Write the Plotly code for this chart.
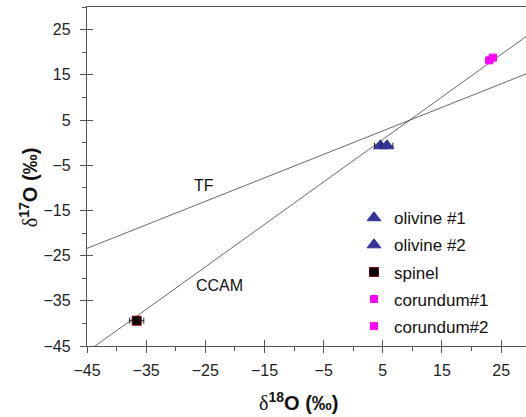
import plotly.graph_objects as go

# ---- data ----
olivine1_x = [4.6]
olivine1_y = [-0.7]
olivine1_err = [1.0]
olivine2_x = [5.7]
olivine2_y = [-0.7]
olivine2_err = [1.0]
spinel_x = [-36.6]
spinel_y = [-39.4]
spinel_err = [1.2]
corundum1_x = [23.0]
corundum1_y = [18.2]
corundum1_err = [0.6]
corundum2_x = [23.6]
corundum2_y = [18.8]
corundum2_err = [0.6]

line_x = [-45, 30]
tf_slope, tf_intercept = 0.52, 0.0
ccam_slope, ccam_intercept = 0.94, -4.0

x_range = [-45, 29.2]
y_range = [-45, 30]
tick_vals = [-45, -35, -25, -15, -5, 5, 15, 25]

FONT = "Liberation Sans, Arial, sans-serif"
AX = "#555555"

# plot-area geometry in pixels (used only to place paper-referenced items)
L, R, T, B = 87, 526, 7, 345.7
def px_x(p):
    return (p - L) / (R - L)
def px_y(p):
    return (B - p) / (B - T)

fig = go.Figure()

fig.add_trace(go.Scatter(x=line_x, y=[tf_slope * v + tf_intercept for v in line_x],
                         mode="lines", line=dict(color="#404040", width=0.8),
                         showlegend=False, hoverinfo="skip"))
fig.add_trace(go.Scatter(x=line_x, y=[ccam_slope * v + ccam_intercept for v in line_x],
                         mode="lines", line=dict(color="#404040", width=0.8),
                         showlegend=False, hoverinfo="skip"))

def pts(name, x, y, err, symbol, color, size, lcolor, group):
    return go.Scatter(
        x=x, y=y, name=name, mode="markers", legendgroup=group,
        marker=dict(symbol=symbol, color=color, size=size,
                    line=dict(color=lcolor, width=1)),
        error_x=dict(type="data", array=err, color="#222222", thickness=1, width=3),
    )

fig.add_trace(pts("olivine #1", olivine1_x, olivine1_y, olivine1_err,
                  "triangle-up", "#333399", 12, "#333399", "g1"))
fig.add_trace(pts("olivine #2", olivine2_x, olivine2_y, olivine2_err,
                  "triangle-up", "#333399", 12, "#333399", "g2"))
fig.add_trace(pts("spinel", spinel_x, spinel_y, spinel_err,
                  "square", "#000000", 9, "#800000", "g3"))
fig.add_trace(pts("corundum#1", corundum1_x, corundum1_y, corundum1_err,
                  "square", "#FF00FF", 7, "#FF00FF", "g4"))
fig.add_trace(pts("corundum#2", corundum2_x, corundum2_y, corundum2_err,
                  "square", "#FF00FF", 7, "#FF00FF", "g5"))

# invisible trace on the overlay axes so the inner tick halves are drawn
fig.add_trace(go.Scatter(x=[0], y=[0], xaxis="x2", yaxis="y2", mode="markers",
                         marker=dict(opacity=0), showlegend=False, hoverinfo="skip"))

fig.add_annotation(x=-25.2, y=-9.4, text="TF", showarrow=False,
                   font=dict(family=FONT, size=16, color="#111111"))
fig.add_annotation(x=-22.6, y=-31.7, text="CCAM", showarrow=False,
                   font=dict(family=FONT, size=16, color="#111111"))

delta = "<span style='font-family:Liberation Serif,Times New Roman,serif;font-weight:normal'>δ</span>"
fig.add_annotation(xref="paper", yref="paper", x=px_x(298), y=px_y(401),
                   xanchor="center", yanchor="middle", showarrow=False,
                   text=delta + "<b><sup>18</sup>O (‰)</b>",
                   font=dict(family=FONT, size=20, color="#111111"))
fig.add_annotation(xref="paper", yref="paper", x=px_x(28), y=px_y(188),
                   xanchor="center", yanchor="middle", showarrow=False, textangle=-90,
                   text=delta + "<b><sup>17</sup>O (‰)</b>",
                   font=dict(family=FONT, size=20, color="#111111"))

axis_common = dict(
    showgrid=False, zeroline=False, tickmode="array", tickvals=tick_vals,
    tickfont=dict(family=FONT, size=16, color="#222222"),
    linecolor=AX, linewidth=1.3, tickcolor=AX, tickwidth=1.3,
)

fig.update_layout(
    width=526, height=417,
    margin=dict(l=L, r=0, t=T, b=417 - B),
    paper_bgcolor="white", plot_bgcolor="white",
    font=dict(family=FONT, size=14, color="#111111"),
    xaxis=dict(range=x_range, showline=True, mirror=True, ticks="outside", ticklen=6,
               ticklabelstandoff=4,
               minor=dict(tickvals=[-40, -30, -20, -10, 0, 10, 20], ticks="outside",
                          ticklen=4, tickcolor=AX, tickwidth=1.3),
               **axis_common),
    yaxis=dict(range=y_range, showline=True, mirror=False, ticks="outside", ticklen=6,
               ticklabelstandoff=6,
               minor=dict(tickvals=[-40, -30, -20, -10, 0, 10, 20, 30], ticks="outside",
                          ticklen=4, tickcolor=AX, tickwidth=1.3),
               **axis_common),
    xaxis2=dict(range=x_range, overlaying="x", ticks="inside", ticklen=6, tickwidth=1.3,
                tickcolor=AX, tickmode="array", tickvals=tick_vals, showticklabels=False,
                showline=False, showgrid=False, zeroline=False),
    yaxis2=dict(range=y_range, overlaying="y", ticks="inside", ticklen=6, tickwidth=1.3,
                tickcolor=AX, tickmode="array", tickvals=tick_vals, showticklabels=False,
                showline=False, showgrid=False, zeroline=False),
    legend=dict(x=px_x(354), y=px_y(200),
                xanchor="left", yanchor="top", bgcolor="rgba(0,0,0,0)",
                tracegroupgap=2, font=dict(family=FONT, size=17, color="#111111")),
    showlegend=True,
)

fig.write_html("out.html", config={"displayModeBar": False},
               post_script="document.body.style.margin='0';document.body.style.padding='0';")
